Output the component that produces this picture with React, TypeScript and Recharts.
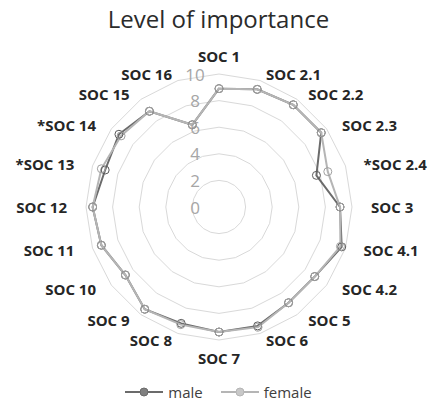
import React from 'react';
import {
    RadarChart,
    Radar,
    PolarGrid,
    PolarAngleAxis,
    PolarRadiusAxis,
    Legend
} from 'recharts';

const categories = [
    'SOC 1', 'SOC 2.1', 'SOC 2.2', 'SOC 2.3', '*SOC 2.4', 'SOC 3', 'SOC 4.1', 'SOC 4.2',
    'SOC 5', 'SOC 6', 'SOC 7', 'SOC 8', 'SOC 9', 'SOC 10', 'SOC 11', 'SOC 12',
    '*SOC 13', '*SOC 14', 'SOC 15', 'SOC 16'
];
const maleValues = [8.9, 9.3, 9.5, 9.5, 7.7, 9.1, 9.7, 8.9, 8.9, 9.4, 9.4, 9.2, 9.5, 8.7, 9.3, 9.5, 9.0, 9.3, 8.9, 6.5];
const femaleValues = [8.9, 9.3, 9.5, 9.5, 8.6, 9.1, 9.6, 8.9, 8.9, 9.5, 9.4, 9.3, 9.5, 8.7, 9.3, 9.5, 9.3, 9.1, 8.9, 6.5];
const radiusTicks = [0, 2, 4, 6, 8, 10];

const W = 421;
const H = 390;
const CX = 211;
const CY = 199;
const R = 133;
const FONT = '"Open Sans", Lato, sans-serif';

const MALE = '#6b6b6b';
const FEMALE = '#b5b5b5';

const data = categories.map((name, i) => ({
    name,
    male: maleValues[i],
    female: femaleValues[i]
}));

const AngleTick = (props: any) => {
    const { payload } = props;
    const i = categories.indexOf(payload.value);
    const rad = ((90 - (i * 360) / categories.length) * Math.PI) / 180;
    const c = Math.cos(rad);
    const s = Math.sin(rad);
    let x = CX + 152 * c;
    let y = CY - 140 * s;
    let anchor = c > 0 ? 'start' : 'end';
    if (Math.abs(c) < 0.01) {
        x = CX;
        y = CY - 151 * s;
        anchor = 'middle';
    }
    return (
        <text x={x} y={y} textAnchor={anchor} dominantBaseline="central"
            fill="#262626" fontSize={15} fontWeight="bold" fontFamily={FONT}>
            {payload.value}
        </text>
    );
};

const RadiusTick = (props: any) => {
    const { x, y, payload } = props;
    return (
        <text x={x - 24} y={y} textAnchor="middle" dominantBaseline="central"
            fill="#a6a6a6" fontSize={17} fontFamily={FONT}>
            {payload.value}
        </text>
    );
};

const LegendContent = () => (
    <div style={{ display: 'flex', justifyContent: 'center', gap: 18, fontFamily: FONT, fontSize: 15, color: '#404040' }}>
        {[{ label: 'male', color: MALE, dot: '#808080' }, { label: 'female', color: FEMALE, dot: '#c8c8c8' }].map(item => (
            <div key={item.label} style={{ display: 'flex', alignItems: 'center', gap: 5 }}>
                <svg width={38} height={12}>
                    <line x1={0} y1={6} x2={38} y2={6} stroke={item.color} strokeWidth={2} />
                    <circle cx={19} cy={6} r={4} fill={item.dot} stroke={item.color} />
                </svg>
                <span>{item.label}</span>
            </div>
        ))}
    </div>
);

export default function App() {
    return (
        <div style={{ position: 'relative', width: W, height: H }}>
            <div style={{
                position: 'absolute', top: -1, left: 0, width: W, textAlign: 'center',
                fontFamily: FONT, fontSize: 24, lineHeight: '24px', color: '#2b2b2b'
            }}>
                Level of importance
            </div>
            <RadarChart width={W} height={H} data={data} cx={CX} cy={CY} outerRadius={R}
                margin={{ top: 0, right: 0, bottom: 0, left: 0 }}>
                <PolarGrid gridType="polygon" radialLines={false} stroke="#d9d9d9" />
                <PolarAngleAxis dataKey="name" tick={<AngleTick />} tickLine={false} axisLine={false} />
                <PolarRadiusAxis angle={90} domain={[0, 10]} ticks={radiusTicks as any}
                    tick={<RadiusTick />} axisLine={false} tickLine={false} />
                <Radar name="male" dataKey="male" stroke={MALE} strokeWidth={2} fill="none" fillOpacity={0}
                    dot={{ r: 4, fill: '#808080', stroke: '#5a5a5a', strokeWidth: 1 }} isAnimationActive={false} />
                <Radar name="female" dataKey="female" stroke={FEMALE} strokeWidth={2} fill="none" fillOpacity={0}
                    dot={{ r: 4, fill: '#c8c8c8', stroke: '#a0a0a0', strokeWidth: 1 }} isAnimationActive={false} />
                <Legend content={<LegendContent />} wrapperStyle={{ top: 374, left: 0, width: W }} />
            </RadarChart>
        </div>
    );
}
